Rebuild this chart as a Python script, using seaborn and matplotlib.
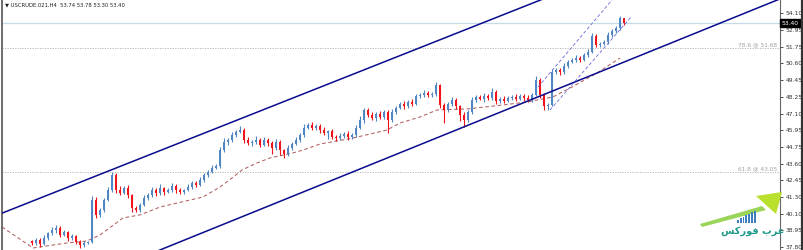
import matplotlib
matplotlib.use("Agg")
import matplotlib.pyplot as plt
import seaborn as sns
import numpy as np
import pandas as pd
from matplotlib.patches import Polygon, Rectangle

# ---------------- data ----------------
first_open = 38.20
closes = [
    38.06, 38.27, 37.99, 38.41, 38.76, 38.97, 39.11, 38.62, 38.83, 38.41,
    38.55, 38.13, 37.92, 38.06, 38.13, 41.06, 40.02, 40.36, 41.06, 41.76,
    42.81, 41.76, 41.55, 41.90, 41.41, 40.50, 40.36, 40.71, 41.20, 41.41,
    41.76, 41.55, 41.90, 41.62, 41.76, 42.04, 41.76, 41.62, 41.76, 41.97,
    42.25, 42.11, 42.46, 42.81, 43.04, 43.30, 43.44, 44.55, 45.11, 45.25,
    45.60, 45.81, 45.95, 45.25, 45.04, 45.11, 45.25, 44.90, 45.25, 45.04,
    44.69, 45.11, 44.55, 44.28, 44.69, 44.97, 45.25, 45.60, 46.09, 46.30,
    46.09, 46.23, 45.95, 45.74, 45.88, 45.46, 45.39, 45.53, 45.67, 45.46,
    45.60, 46.09, 46.65, 47.35, 47.00, 46.79, 47.07, 46.86, 47.21, 46.65,
    47.21, 47.49, 47.77, 47.63, 47.91, 47.77, 48.33, 48.39, 48.54, 48.39,
    48.46, 49.09, 47.70, 47.35, 47.77, 48.05, 47.63, 47.00, 46.65, 47.21,
    48.05, 48.26, 48.12, 48.33, 48.19, 48.60, 47.98, 48.12, 47.98, 48.19,
    48.26, 48.12, 48.33, 48.19, 48.05, 48.40, 49.44, 48.40, 47.63, 47.70,
    50.00, 50.14, 50.00, 50.42, 50.70, 50.84, 50.98, 50.84, 51.19, 51.40,
    52.51, 51.89, 51.96, 52.10, 52.59, 52.86, 53.07, 53.74, 53.40,
]
upper_wick = [
    0.10, 0.15, 0.12, 0.20, 0.10, 0.18, 0.20, 0.12, 0.15, 0.10,
    0.12, 0.10, 0.15, 0.12, 0.10, 0.30, 0.20, 0.15, 0.12, 0.20,
    0.20, 0.15, 0.25, 0.12, 0.18, 0.10, 0.15, 0.12, 0.20, 0.15,
    0.18, 0.12, 0.25, 0.10, 0.15, 0.20, 0.12, 0.15, 0.10, 0.18,
    0.15, 0.12, 0.20, 0.15, 0.12, 0.18, 0.15, 0.20, 0.25, 0.15,
    0.18, 0.15, 0.25, 0.12, 0.20, 0.15, 0.30, 0.12, 0.20, 0.15,
    0.12, 0.20, 0.15, 0.10, 0.18, 0.15, 0.20, 0.12, 0.25, 0.15,
    0.18, 0.12, 0.15, 0.20, 0.10, 0.15, 0.12, 0.20, 0.15, 0.18,
    0.12, 0.20, 0.30, 0.15, 0.12, 0.20, 0.15, 0.18, 0.12, 0.15,
    0.20, 0.15, 0.12, 0.18, 0.15, 0.20, 0.12, 0.15, 0.18, 0.10,
    0.15, 0.20, 0.10, 0.15, 0.12, 0.20, 0.15, 0.10, 0.18, 0.15,
    0.20, 0.12, 0.15, 0.18, 0.12, 0.25, 0.15, 0.12, 0.18, 0.15,
    0.12, 0.20, 0.15, 0.12, 0.18, 0.15, 0.25, 0.12, 0.10, 0.15,
    0.20, 0.15, 0.12, 0.18, 0.15, 0.12, 0.20, 0.15, 0.12, 0.18,
    0.20, 0.12, 0.15, 0.12, 0.18, 0.15, 0.12, 0.15, 0.04,
]
lower_wick = [
    0.15, 0.12, 0.20, 0.10, 0.15, 0.12, 0.18, 0.15, 0.10, 0.20,
    0.15, 0.12, 0.20, 0.15, 0.10, 0.08, 0.25, 0.15, 0.12, 0.10,
    0.12, 0.20, 0.15, 0.10, 0.18, 0.30, 0.12, 0.15, 0.10, 0.12,
    0.15, 0.20, 0.12, 0.18, 0.10, 0.15, 0.20, 0.12, 0.15, 0.10,
    0.12, 0.15, 0.10, 0.12, 0.15, 0.12, 0.10, 0.12, 0.15, 0.20,
    0.12, 0.15, 0.10, 0.18, 0.12, 0.20, 0.15, 0.12, 0.10, 0.18,
    0.40, 0.15, 0.35, 0.25, 0.12, 0.15, 0.10, 0.12, 0.15, 0.10,
    0.15, 0.12, 0.20, 0.15, 0.40, 0.12, 0.18, 0.15, 0.12, 0.20,
    0.15, 0.12, 0.10, 0.20, 0.15, 0.12, 0.18, 0.15, 0.12, 0.90,
    0.15, 0.12, 0.10, 0.18, 0.12, 0.15, 0.10, 0.12, 0.15, 0.12,
    0.15, 0.10, 0.20, 0.90, 0.15, 0.12, 0.20, 0.40, 0.50, 0.15,
    0.12, 0.15, 0.10, 0.18, 0.12, 0.15, 0.20, 0.12, 0.15, 0.10,
    0.12, 0.15, 0.10, 0.18, 0.12, 0.15, 0.10, 0.20, 0.30, 0.25,
    0.10, 0.15, 0.20, 0.12, 0.15, 0.10, 0.12, 0.15, 0.10, 0.12,
    0.10, 0.15, 0.12, 0.10, 0.12, 0.15, 0.10, 0.12, 0.10,
]

# moving average (bar index, price)
ma_x = [-7.5, 0.25, 8.75, 13.75, 17, 22.75, 27, 32, 39.5, 42.75, 47, 50, 52.5,
        56.25, 59.5, 65.25, 67.75, 72, 80.25, 88.75, 92, 97, 101.25, 108.75,
        117.75, 123.75, 130.25, 134.5, 141.25, 147]
ma_y = [39.18, 37.71, 38.06, 38.20, 38.62, 39.81, 40.02, 40.57, 41.06, 41.27,
        41.97, 42.60, 43.16, 43.65, 44.00, 44.35, 44.55, 44.97, 45.39, 45.95,
        46.44, 46.86, 47.35, 47.42, 47.70, 47.91, 48.26, 48.88, 49.93, 50.98]

# main channel (bar index, price)
chan_up_x = [-10.5, 132.0]
chan_up_y = [39.81, 55.57]
chan_lo_x = [29.5, 189.5]
chan_lo_y = [37.29, 55.39]

# small dashed channel
dch_up_x = [126.5, 145.0]
dch_up_y = [48.95, 55.03]
dch_lo_x = [129.5, 149.75]
dch_lo_y = [47.35, 53.84]

fib_levels = [51.68, 43.05]
fib_labels = ["78.6 @ 51.68", "61.8 @ 43.05"]
last_price = 53.40

ytick_vals = [54.10, 52.95, 51.75, 50.60, 49.45, 48.25, 47.10, 45.95, 44.75,
              43.60, 42.45, 41.30, 40.10, 38.95, 37.80]
header = "\u25bc USCRUDE.021,H4  53.74 53.78 53.30 53.40"
logo_text = "\ufeb2\ufedb\ufead\ufeee\ufed3 \ufe8f\ufeae\ufecb"

# ---------------- figure ----------------
sns.set_style("white")
plt.rcParams['font.family'] = ['DejaVu Sans']

W, H = 804, 250
fig = plt.figure(figsize=(W / 100, H / 100), dpi=100)
ax = fig.add_axes([2 / W, 0, 778 / W, 1])
ax.set_xlim(-7.5, 187)
ax.set_ylim(37.57, 55.03)

n = len(closes)
idx = np.arange(n)
opens = [first_open] + closes[:-1]
df = pd.DataFrame({"i": idx, "o": opens, "c": closes})
df["hi"] = df[["o", "c"]].max(axis=1) + np.array(upper_wick)
df["lo"] = df[["o", "c"]].min(axis=1) - np.array(lower_wick)
df["up"] = df["c"] >= df["o"]

bull, bear = "#4f86c3", "#f0141a"
cols = np.where(df["up"], bull, bear)

# horizontal lines
ax.axhline(last_price, color="#c5dbe8", lw=0.9, zorder=1)
for lvl, lab in zip(fib_levels, fib_labels):
    ax.axhline(lvl, color="#b0b0b0", lw=0.6, ls=(0, (1.5, 1.5)), zorder=1)
    ax.text(0.996, lvl + 0.05, lab, transform=ax.get_yaxis_transform(),
            ha="right", va="bottom", fontsize=4.2, color="#a0a0a0")

# candles
ax.vlines(df["i"], df["lo"], df["hi"], colors=cols, lw=0.8, zorder=3)
ax.bar(df["i"], (df["c"] - df["o"]).abs().clip(lower=0.03),
       bottom=df[["o", "c"]].min(axis=1), width=0.72, color=cols,
       linewidth=0, zorder=4)

# moving average
sns.lineplot(x=ma_x, y=ma_y, ax=ax, color="#b06060", lw=0.75,
             linestyle=(0, (3.5, 2.5)), sort=False, estimator=None, zorder=2)

# channels
ax.plot(chan_up_x, chan_up_y, color="#0a0a8c", lw=1.1, zorder=5)
ax.plot(chan_lo_x, chan_lo_y, color="#0a0a8c", lw=1.1, zorder=5)
ax.plot(dch_up_x, dch_up_y, color="#6a6ad8", lw=0.6, ls=(0, (4, 2.5)), zorder=5)
ax.plot(dch_lo_x, dch_lo_y, color="#6a6ad8", lw=0.6, ls=(0, (4, 2.5)), zorder=5)

# axes styling
ax.yaxis.tick_right()
ax.set_yticks(ytick_vals)
ax.set_yticklabels([f"{v:.2f}" for v in ytick_vals])
ax.tick_params(axis="y", right=True, length=2, width=0.6, pad=2,
               labelsize=4.3, colors="#333333")
ax.set_xticks([])
for s in ["top", "bottom"]:
    ax.spines[s].set_visible(False)
ax.spines["left"].set_color("#555555")
ax.spines["left"].set_linewidth(1.2)
ax.spines["right"].set_color("#666666")
ax.spines["right"].set_linewidth(0.8)

# last price box
ax.text(1.002, last_price, f"{last_price:.2f}", transform=ax.get_yaxis_transform(),
        ha="left", va="center", fontsize=4.3, color="white",
        bbox=dict(boxstyle="square,pad=0.25", fc="black", ec="black"), zorder=10,
        clip_on=False)

# header
fig.text(5 / W, 1 - 5 / H, header, ha="left", va="center", fontsize=3.8,
         color="#222222")

# outer right border
fig.add_artist(plt.Line2D([802 / W, 802 / W], [0, 1], color="#333333", lw=1.6))

# logo (figure pixel coordinates converted)
def fp(px, py):
    return (px / W, 1 - py / H)

body = Polygon([fp(700, 224), fp(762, 206), fp(766, 210), fp(702, 227)],
               closed=True, transform=fig.transFigure, fc="#8fd046", ec="none",
               alpha=0.9)
fig.add_artist(body)
head = Polygon([fp(756, 196), fp(782, 192), fp(776, 214)], closed=True,
               transform=fig.transFigure, fc="#b8e02c", ec="none")
fig.add_artist(head)
bar_h = [3, 5, 6, 8, 9, 11, 12]
for k, hgt in enumerate(bar_h):
    fig.add_artist(Rectangle(fp(737 + k * 2.8, 223), 1.9 / W, hgt / H,
                             transform=fig.transFigure, fc="#3d7fc0", ec="none"))
fig.text(753 / W, 1 - 231 / H, logo_text, ha="center", va="center",
         fontsize=7, color="#1f9a8a", fontweight="bold")

fig.savefig("out.png", dpi=100, facecolor="white")
